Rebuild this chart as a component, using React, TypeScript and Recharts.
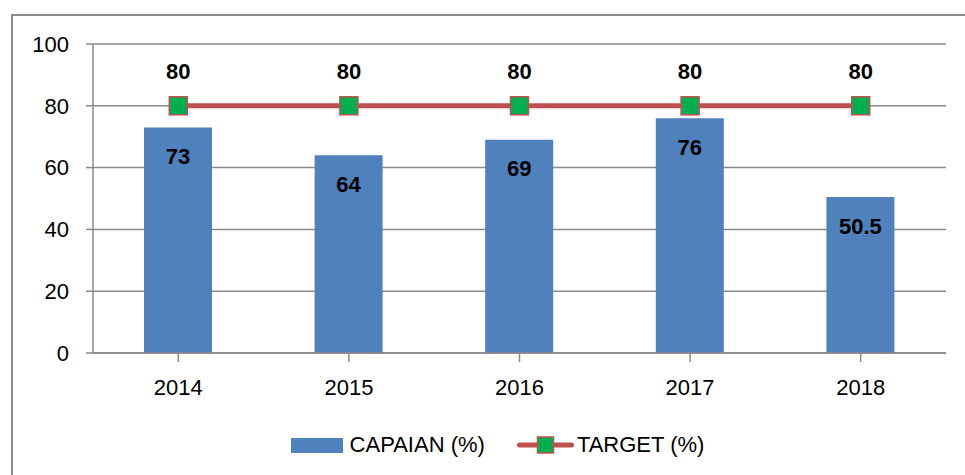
import React from "react";
import {
  ComposedChart,
  Bar,
  Line,
  XAxis,
  YAxis,
  CartesianGrid,
  Legend,
  LabelList,
} from "recharts";

const categories = ["2014", "2015", "2016", "2017", "2018"];
const capaian = [73, 64, 69, 76, 50.5];
const target = [80, 80, 80, 80, 80];
const yTicks = [0, 20, 40, 60, 80, 100];

const data = categories.map((year, i) => ({
  year,
  capaian: capaian[i],
  target: target[i],
}));

const FONT = "'Liberation Sans', Arial, sans-serif";
const BAR = "#4F81BD";
const LINE = "#C0504D";
const MARK = "#00B050";
const GRID = "#8a8a8a";

const SquareDot = (props: any) => {
  const { cx, cy } = props;
  if (cx == null || cy == null) return null;
  return (
    <rect
      x={cx - 9}
      y={cy - 9}
      width={18}
      height={18}
      fill={MARK}
      stroke={LINE}
      strokeWidth={1.5}
    />
  );
};

const LegendContent = () => (
  <div
    style={{
      display: "flex",
      justifyContent: "center",
      alignItems: "center",
      paddingLeft: 30,
      fontFamily: FONT,
      fontSize: 22,
      color: "#000",
      height: 30,
    }}
  >
    <span style={{ display: "inline-block", width: 52, height: 15, background: BAR, marginRight: 7 }} />
    <span style={{ marginRight: 32 }}>CAPAIAN (%)</span>
    <svg width={57} height={20} style={{ marginRight: 3 }}>
      <line x1={2.5} y1={10} x2={54.5} y2={10} stroke={LINE} strokeWidth={5} strokeLinecap="round" />
      <rect x={20.5} y={2} width={16} height={16} fill={MARK} stroke={LINE} strokeWidth={1.5} />
    </svg>
    <span>TARGET (%)</span>
  </div>
);

export default function App() {
  return (
    <div
      style={{
        position: "fixed",
        left: 0,
        top: 0,
        width: 965,
        height: 475,
        overflow: "hidden",
        background: "#fff",
      }}
    >
      <div
        style={{
          position: "absolute",
          left: 11,
          top: 14,
          width: 1000,
          height: 1000,
          borderLeft: "2px solid #8c8c8c",
          borderTop: "2px solid #8c8c8c",
        }}
      />
      <div style={{ position: "absolute", left: 0, top: 0 }}>
        <ComposedChart
          width={965}
          height={475}
          data={data}
          margin={{ top: 44, right: 19, left: 0, bottom: 15 }}
          barCategoryGap={0}
        >
          <CartesianGrid vertical={false} stroke={GRID} strokeWidth={1.5} />
          <XAxis
            dataKey="year"
            height={77}
            tickSize={9}
            tickMargin={17}
            tick={{ fontFamily: FONT, fontSize: 22, fill: "#000" }}
            axisLine={{ stroke: GRID, strokeWidth: 1.5 }}
            tickLine={{ stroke: GRID, strokeWidth: 1.5 }}
            interval={0}
          />
          <YAxis
            domain={[0, 100]}
            ticks={yTicks}
            width={93}
            tickSize={7}
            tickMargin={17}
            tick={{ fontFamily: FONT, fontSize: 22, fill: "#000" }}
            axisLine={{ stroke: GRID, strokeWidth: 1.5 }}
            tickLine={{ stroke: GRID, strokeWidth: 1.5 }}
            interval={0}
          />
          <Legend verticalAlign="bottom" content={<LegendContent />} wrapperStyle={{ left: 0, width: 965 }} />
          <Bar dataKey="capaian" fill={BAR} barSize={68} isAnimationActive={false}>
            <LabelList
              dataKey="capaian"
              position="insideTop"
              offset={21}
              style={{ fontFamily: FONT, fontSize: 22, fontWeight: "bold", fill: "#000" }}
            />
          </Bar>
          <Line
            dataKey="target"
            stroke={LINE}
            strokeWidth={5}
            dot={<SquareDot />}
            activeDot={false}
            isAnimationActive={false}
          >
            <LabelList
              dataKey="target"
              position="top"
              offset={27}
              style={{ fontFamily: FONT, fontSize: 22, fontWeight: "bold", fill: "#000" }}
            />
          </Line>
        </ComposedChart>
      </div>
    </div>
  );
}
